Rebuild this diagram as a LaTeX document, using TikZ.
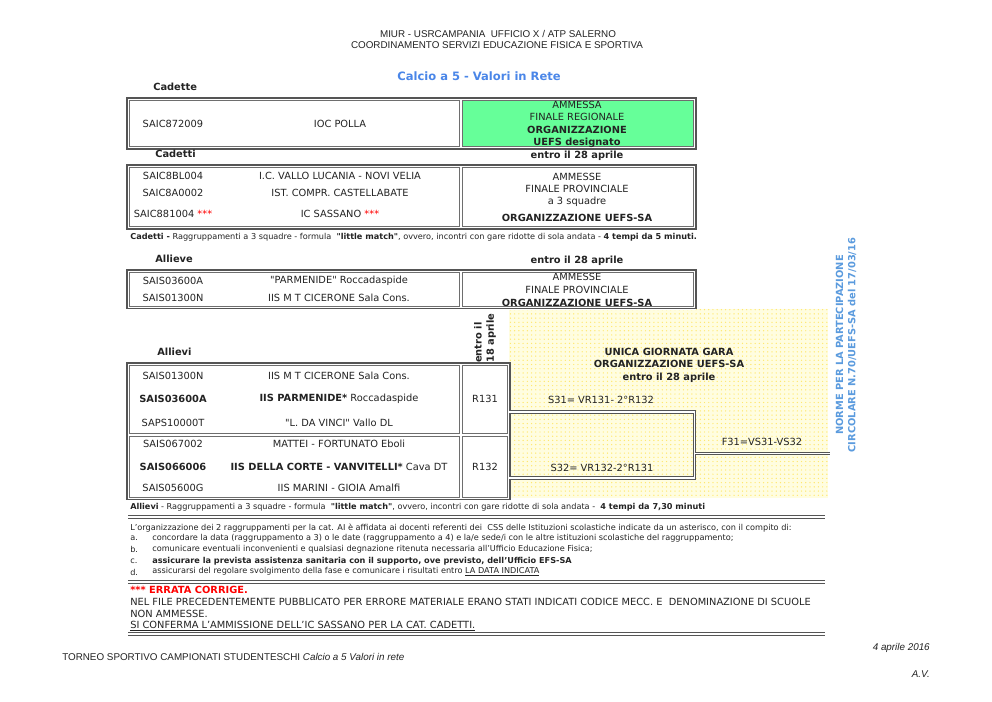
\documentclass[tikz,border=0pt]{standalone}
\usepackage{fontspec}
\setmainfont{DejaVu Sans}
\newfontfamily\hdrfont{Liberation Sans}
\usetikzlibrary{patterns}
\definecolor{titleblue}{RGB}{74,134,232}
\definecolor{normeblue}{RGB}{91,155,222}
\definecolor{okgreen}{RGB}{102,255,153}
\definecolor{dotyellow}{RGB}{255,232,110}
\definecolor{rulegray}{RGB}{85,85,85}
\definecolor{ink}{RGB}{35,35,35}
\newcommand{\dqmark}{\XeTeXglyph\XeTeXcharglyph"22\relax}

\begin{document}
\begin{tikzpicture}[
    x=0.025cm, y=-0.025cm,
    every node/.style={font=\fontsize{7}{8.8}\selectfont, text=ink, inner sep=0pt},
    frame/.style={draw=rulegray, line width=0.95pt},
    cell/.style={draw=rulegray!85, line width=0.6pt},
    wire/.style={preaction={draw=rulegray, line width=2.5pt}, draw=white, line width=0.9pt},
    bold/.style={font=\fontsize{7}{8.8}\selectfont\bfseries},
    lbl/.style={anchor=west, font=\fontsize{7}{8.8}\selectfont\bfseries},
    note/.style={anchor=west, font=\fontsize{5.8}{7}\selectfont},
    errata/.style={anchor=west, font=\fontsize{7}{8}\selectfont},
    hdr/.style={font=\hdrfont\fontsize{7}{8.5}\selectfont}
]
\useasboundingbox (0,0) rectangle (992,702);
\fill[white] (0,0) rectangle (992,702);

\node[hdr] (miur) at (498,34) {MIUR - USRCAMPANIA\ \ UFFICIO X / ATP SALERNO};
\node[hdr] (coord) at (497,45) {COORDINAMENTO SERVIZI EDUCAZIONE FISICA E SPORTIVA};
\node[font=\fontsize{8.2}{10}\selectfont\bfseries, text=titleblue] (title) at (479,76) {Calcio a 5 - Valori in Rete};

\node[lbl] (cadette) at (153,87) {Cadette};
\fill[okgreen] (462,100.5) rectangle (693.5,146.5);
\draw[frame] (127,98) rectangle (696,149);
\draw[cell] (129.5,100.5) rectangle (459,146.5);
\draw[cell] (462,100.5) rectangle (693.5,146.5);
\node (c1code) at (173,124) {SAIC872009};
\node (c1name) at (340,124) {IOC POLLA};
\node[align=center, font=\fontsize{7}{8.8}\selectfont] (regionale) at (577,124.5) {AMMESSA\\FINALE REGIONALE\\\textbf{ORGANIZZAZIONE}\\\textbf{UEFS designato}};
\node[bold] (entroA) at (577,155.5) {entro il 28 aprile};

\node[lbl] (cadetti) at (155,154) {Cadetti};
\draw[frame] (127,165) rectangle (696,229);
\draw[cell] (129.5,167.5) rectangle (459,226.5);
\draw[cell] (462,167.5) rectangle (693.5,226.5);
\node (d1code) at (173,176) {SAIC8BL004};
\node (d1name) at (340,176) {I.C. VALLO LUCANIA - NOVI VELIA};
\node (d2code) at (173,193) {SAIC8A0002};
\node (d2name) at (340,193) {IST. COMPR. CASTELLABATE};
\node (d3code) at (173,214) {SAIC881004 \textcolor{red}{***}};
\node (d3name) at (340,214) {IC SASSANO \textcolor{red}{***}};
\node[align=center, font=\fontsize{7}{8.6}\selectfont] (provincialeA) at (577,190) {AMMESSE\\FINALE PROVINCIALE\\a 3 squadre};
\node[bold] (orgA) at (577,217.5) {ORGANIZZAZIONE UEFS-SA};
\node[note] (noteA) at (130,237) {\textbf{Cadetti -} Raggruppamenti a 3 squadre - formula\ \ \textbf{\dqmark little match\dqmark}, ovvero, incontri con gare ridotte di sola andata - \textbf{4 tempi da 5 minuti.}};

\node[lbl] (allieve) at (155,259) {Allieve};
\node[bold] (entroB) at (577,261) {entro il 28 aprile};
\fill[yellow!12] (509,308.5) rectangle (828,498);
\fill[pattern=dots, pattern color=dotyellow] (509,308.5) rectangle (828,498);
\node (e1code) at (173,281) {SAIS03600A};
\node (e1name) at (339,281) {\dqmark PARMENIDE\dqmark\ Roccadaspide};
\node (e2code) at (173,298) {SAIS01300N};
\node (e2name) at (339,298) {IIS M T CICERONE Sala Cons.};
\node[align=center, font=\fontsize{7}{9.2}\selectfont] (provincialeB) at (577,290) {AMMESSE\\FINALE PROVINCIALE\\\textbf{ORGANIZZAZIONE UEFS-SA}};
\fill[white] (127,306.5) rectangle (696,310);
\draw[frame] (127,270) rectangle (696,308.5);
\draw[cell] (129.5,272.5) rectangle (459,306);
\draw[cell] (462,272.5) rectangle (693.5,306);

\node[bold, rotate=90, anchor=west, align=left] (entro18) at (485,363) {entro il\\18 aprile};
\node[lbl] (allievi) at (157,352) {Allievi};
\draw[frame] (127,363) rectangle (510,499.5);
\draw[cell] (129.5,365.5) rectangle (459,433.5);
\draw[cell] (462,365.5) rectangle (507.5,433.5);
\draw[cell] (129.5,436.5) rectangle (459,497);
\draw[cell] (462,436.5) rectangle (507.5,497);
\node (g1code) at (173,376) {SAIS01300N};
\node (g1name) at (339,376) {IIS M T CICERONE Sala Cons.};
\node[bold] (g2code) at (173,399) {SAIS03600A};
\node (g2name) at (339,399) {\textbf{IIS PARMENIDE*} Roccadaspide};
\node (g3code) at (173,423) {SAPS10000T};
\node (g3name) at (339,423) {\dqmark L. DA VINCI\dqmark\ Vallo DL};
\node (h1code) at (173,444) {SAIS067002};
\node (h1name) at (339,444) {MATTEI - FORTUNATO Eboli};
\node[bold] (h2code) at (173,467) {SAIS066006};
\node (h2name) at (339,467) {\textbf{IIS DELLA CORTE - VANVITELLI*} Cava DT};
\node (h3code) at (173,488) {SAIS05600G};
\node (h3name) at (339,488) {IIS MARINI - GIOIA Amalfi};
\node (r131) at (485,399) {R131};
\node (r132) at (485,467) {R132};

\node[align=center, font=\fontsize{7}{8.9}\selectfont\bfseries] (unica) at (669,365) {UNICA GIORNATA GARA\\ORGANIZZAZIONE UEFS-SA\\entro il 28 aprile};
\node (s31) at (601,400) {S31= VR131- 2°R132};
\node (s32) at (602,468) {S32= VR132-2°R131};
\node (f31) at (762,442) {F31=VS31-VS32};
\coordinate (s31w) at (509,412);
\coordinate (s31e) at (694.5,412);
\coordinate (s32e) at (694.5,478);
\coordinate (s32w) at (509,478);
\coordinate (f31w) at (694.5,453.5);
\coordinate (f31e) at (830,453.5);
\draw[wire] (s31w) -- (s31e) -- (s32e) -- (s32w);
\draw[wire] (f31w) -- (f31e);

\node[rotate=90, align=center, text=normeblue, font=\fontsize{7}{8.6}\selectfont\bfseries] (norme) at (846,345) {NORME PER LA PARTECIPAZIONE\\CIRCOLARE N.70/UEFS-SA del 17/03/16};

\node[note] (noteB) at (130,507) {\textbf{Allievi} - Raggruppamenti a 3 squadre - formula\ \ \textbf{\dqmark little match\dqmark}, ovvero, incontri con gare ridotte di sola andata -\ \ \textbf{4 tempi da 7,30 minuti}};
\draw[wire] (128,517) -- (825,517);
\node[note] (compiti) at (130,528) {L'organizzazione dei 2 raggruppamenti per la cat. AI è affidata ai docenti referenti dei\ \ CSS delle Istituzioni scolastiche indicate da un asterisco, con il compito di:};
\node[note] (pa) at (130,538) {a.};
\node[note] (ta) at (152,538) {concordare la data (raggruppamento a 3) o le date (raggruppamento a 4) e la/e sede/i con le altre istituzioni scolastiche del raggruppamento;};
\node[note] (pb) at (130,549) {b.};
\node[note] (tb) at (152,549) {comunicare eventuali inconvenienti e qualsiasi degnazione ritenuta necessaria all'Ufficio Educazione Fisica;};
\node[note] (pc) at (130,561) {c.};
\node[note] (tc) at (152,561) {\textbf{assicurare la prevista assistenza sanitaria con il supporto, ove previsto, dell'Ufficio EFS-SA}};
\node[note] (pd) at (130,572) {d.};
\node[note] (td) at (152,572) {assicurarsi del regolare svolgimento della fase e comunicare i risultati entro \underline{LA DATA INDICATA}};
\draw[wire] (128,582) -- (825,582);

\node[errata, font=\fontsize{7}{8}\selectfont\bfseries, text=red] (errata) at (130,590) {*** ERRATA CORRIGE.};
\node[errata] (erl1) at (130,602) {NEL FILE PRECEDENTEMENTE PUBBLICATO PER ERRORE MATERIALE ERANO STATI INDICATI CODICE MECC. E\ \ DENOMINAZIONE DI SCUOLE};
\node[errata] (erl2) at (130,614) {NON AMMESSE.};
\node[errata] (erl3) at (130,626) {\underline{SI CONFERMA L'AMMISSIONE DELL'IC SASSANO PER LA CAT. CADETTI.}};
\draw[wire] (128,634) -- (825,634);

\node[hdr, anchor=west] (torneo) at (62,657) {TORNEO SPORTIVO CAMPIONATI STUDENTESCHI \textit{Calcio a 5 Valori in rete}};
\node[hdr, anchor=east] (data) at (930,648) {\textit{4 aprile 2016}};
\node[hdr, anchor=east] (sigla) at (930,674) {\textit{A.V.}};
\end{tikzpicture}
\end{document}
